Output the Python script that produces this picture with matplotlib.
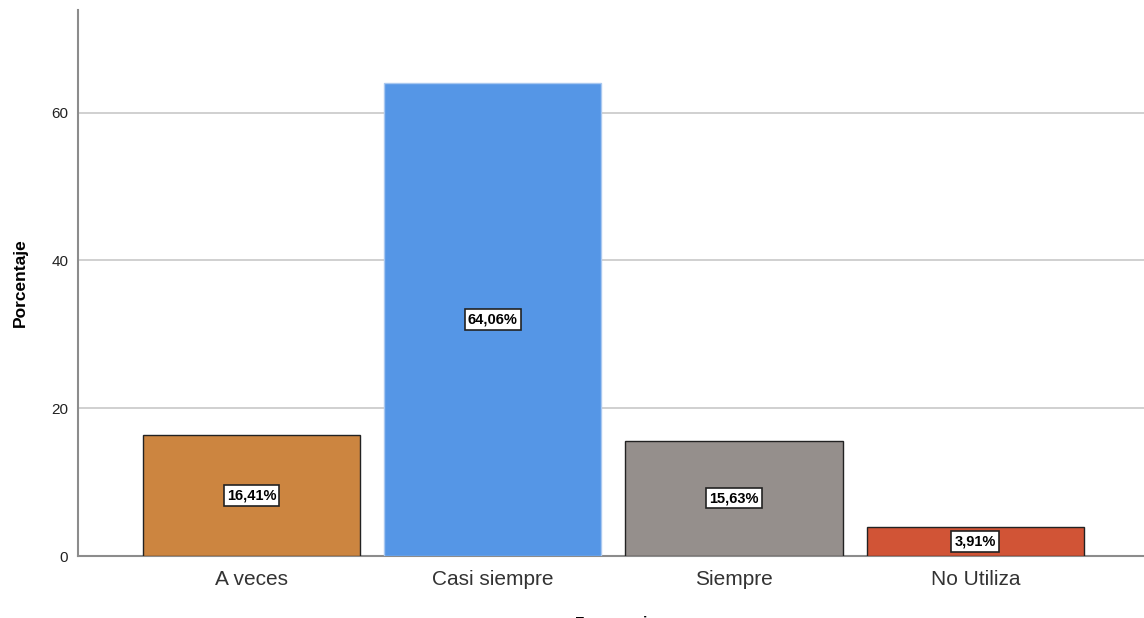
import matplotlib.pyplot as plt

# porcentajes por categoria de respuesta
categorias = ['A veces', 'Casi siempre', 'Siempre', 'No Utiliza']
porcentajes = [16.41, 64.06, 15.63, 3.91]
colores = ['#CC8540', '#5596E6', '#958F8C', '#D15436']
bordes = ['#222222', '#A9C8F0', '#222222', '#222222']
etiquetas = ['16,41%', '64,06%', '15,63%', '3,91%']

plt.rcParams['font.family'] = ['Liberation Sans', 'DejaVu Sans']

fig = plt.figure(figsize=(11.44, 6.18), dpi=100)
ax = fig.add_axes([0.0682, 0.1003, 0.9318, 0.8835])

x = list(range(len(categorias)))
ax.bar(x, porcentajes, width=0.9, color=colores, edgecolor=bordes,
       linewidth=1.0, zorder=3)

# etiqueta de valor en el centro de cada barra
for xi, valor, texto in zip(x, porcentajes, etiquetas):
    ax.text(xi, valor / 2, texto, ha='center', va='center', fontsize=10.5,
            fontweight='bold', color='black', zorder=4,
            bbox=dict(boxstyle='square,pad=0.22', facecolor='white',
                      edgecolor='#222222', linewidth=1.2))

ax.set_xlim(-0.719, 3.699)
ax.set_ylim(0, 73.9)
ax.set_yticks([0, 20, 40, 60])
ax.set_xticks(x)
ax.set_xticklabels(categorias, fontsize=15, color='#333333')
ax.tick_params(axis='x', length=0, pad=10)
ax.tick_params(axis='y', length=0, pad=7, labelsize=11, labelcolor='#222222')

ax.grid(axis='y', color='#C8C8C8', linewidth=1.2, zorder=0)
ax.set_axisbelow(True)
for lado in ['top', 'right']:
    ax.spines[lado].set_visible(False)
ax.spines['left'].set_color('#8C8C8C')
ax.spines['bottom'].set_color('#8C8C8C')
ax.spines['left'].set_linewidth(1.5)
ax.spines['bottom'].set_linewidth(1.5)

ax.set_ylabel('Porcentaje', fontsize=12.5, fontweight='bold')
ax.yaxis.set_label_coords(-0.047, 0.5)

# titulo del eje x, queda recortado por el borde inferior
fig.text(0.538, 0.003, 'Frecuencia', ha='center', va='top', fontsize=11,
         fontweight='bold')

fig.savefig('out.png', dpi=100)
